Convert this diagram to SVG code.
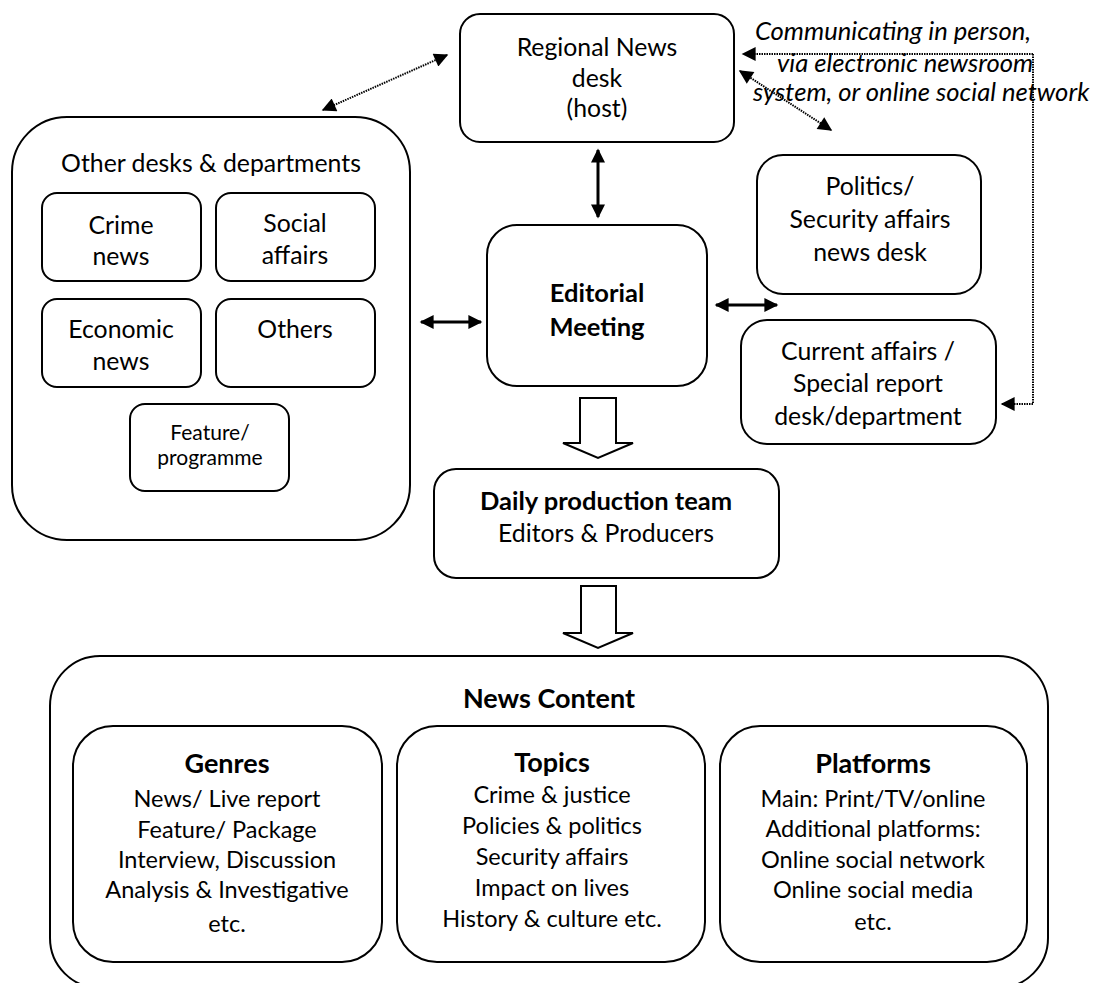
<svg xmlns="http://www.w3.org/2000/svg" width="1109" height="983" viewBox="0 0 1109 983">
  <defs>
    <style>
      .box { fill: #fff; stroke: #000; stroke-width: 2; }
      .t { font-family: Lato, "Liberation Sans", sans-serif; font-size: 24.8px; fill: #000; text-anchor: middle; }
      .b { font-weight: bold; font-size: 25.5px; }
      .h { font-size: 27px; font-weight: bold; }
      .s { font-size: 21px; }
      .l { font-size: 23.5px; }
      .it { font-style: italic; text-anchor: start; font-size: 25.6px; }
      .solid { stroke: #000; stroke-width: 3; fill: none; }
      .dot { stroke: #000; stroke-width: 2; fill: none; stroke-dasharray: 1.5 1; }
      .hollow { fill: #fff; stroke: #000; stroke-width: 2; stroke-linejoin: miter; }
    </style>
    <marker id="head" viewBox="0 0 10 10" refX="9" refY="5" markerWidth="16" markerHeight="14" markerUnits="userSpaceOnUse" orient="auto-start-reverse">
      <path d="M0,0 L10,5 L0,10 z" fill="#000"/>
    </marker>
  </defs>

  <!-- Regional News desk -->
  <g id="regional-desk">
    <rect class="box" x="460" y="14" width="274" height="128" rx="20"/>
    <text class="t" x="597" y="56">Regional News</text>
    <text class="t" x="597" y="87">desk</text>
    <text class="t" x="597" y="117">(host)</text>
  </g>

  <!-- Other desks & departments -->
  <g id="other-desks">
    <rect class="box" x="12" y="117" width="398" height="423" rx="55"/>
    <text class="t" x="211" y="172">Other desks &amp; departments</text>
  </g>
  <g id="crime-news">
    <rect class="box" x="42" y="193" width="159" height="88" rx="15"/>
    <text class="t" x="121" y="234">Crime</text>
    <text class="t" x="121" y="265">news</text>
  </g>
  <g id="social-affairs">
    <rect class="box" x="216" y="193" width="159" height="88" rx="15"/>
    <text class="t" x="295" y="232">Social</text>
    <text class="t" x="295" y="264">affairs</text>
  </g>
  <g id="economic-news">
    <rect class="box" x="42" y="299" width="159" height="88" rx="15"/>
    <text class="t" x="121" y="338">Economic</text>
    <text class="t" x="121" y="370">news</text>
  </g>
  <g id="others">
    <rect class="box" x="216" y="299" width="159" height="88" rx="15"/>
    <text class="t" x="295" y="338">Others</text>
  </g>
  <g id="feature-programme">
    <rect class="box" x="130" y="404" width="159" height="87" rx="15"/>
    <text class="t s" x="210" y="440">Feature/</text>
    <text class="t s" x="210" y="465">programme</text>
  </g>

  <!-- Editorial Meeting -->
  <g id="editorial-meeting">
    <rect class="box" x="487" y="225" width="220" height="161" rx="30"/>
    <text class="t b" x="597" y="302">Editorial</text>
    <text class="t b" x="597" y="336">Meeting</text>
  </g>

  <!-- Politics / Security affairs -->
  <g id="politics-desk">
    <rect class="box" x="757" y="155" width="224" height="139" rx="26"/>
    <text class="t" x="870" y="195">Politics/</text>
    <text class="t" x="870" y="228">Security affairs</text>
    <text class="t" x="870" y="261">news desk</text>
  </g>

  <!-- Current affairs / Special report -->
  <g id="current-affairs">
    <rect class="box" x="741" y="320" width="255" height="124" rx="26"/>
    <text class="t" x="868" y="360">Current affairs /</text>
    <text class="t" x="868" y="392">Special report</text>
    <text class="t" x="868" y="425">desk/department</text>
  </g>

  <!-- Daily production team -->
  <g id="daily-production">
    <rect class="box" x="434" y="469" width="345" height="109" rx="22"/>
    <text class="t b" x="606" y="510">Daily production team</text>
    <text class="t" x="606" y="542">Editors &amp; Producers</text>
  </g>

  <!-- News Content -->
  <g id="news-content">
    <rect class="box" x="50" y="656" width="998" height="332" rx="50"/>
    <text class="t h" x="549" y="708">News Content</text>
  </g>
  <g id="genres">
    <rect class="box" x="73" y="726" width="309" height="236" rx="40"/>
    <text class="t h" x="227" y="773">Genres</text>
    <text class="t l" x="227" y="807">News/ Live report</text>
    <text class="t l" x="227" y="838">Feature/ Package</text>
    <text class="t l" x="227" y="868">Interview, Discussion</text>
    <text class="t l" x="227" y="898">Analysis &amp; Investigative</text>
    <text class="t l" x="227" y="932">etc.</text>
  </g>
  <g id="topics">
    <rect class="box" x="397" y="726" width="308" height="236" rx="40"/>
    <text class="t h" x="552" y="772">Topics</text>
    <text class="t l" x="552" y="803">Crime &amp; justice</text>
    <text class="t l" x="552" y="834">Policies &amp; politics</text>
    <text class="t l" x="552" y="865">Security affairs</text>
    <text class="t l" x="552" y="896">Impact on lives</text>
    <text class="t l" x="552" y="927">History &amp; culture etc.</text>
  </g>
  <g id="platforms">
    <rect class="box" x="720" y="726" width="307" height="236" rx="40"/>
    <text class="t h" x="873" y="773">Platforms</text>
    <text class="t l" x="873" y="807">Main: Print/TV/online</text>
    <text class="t l" x="873" y="837">Additional platforms:</text>
    <text class="t l" x="873" y="868">Online social network</text>
    <text class="t l" x="873" y="898">Online social media</text>
    <text class="t l" x="873" y="930">etc.</text>
  </g>

  <!-- Communication note -->
  <g id="note">
    <text class="t it" x="755" y="40">Communicating in person,</text>
    <text class="t it" x="777" y="72">via electronic newsroom</text>
    <text class="t it" x="753" y="101">system, or online social network</text>
  </g>

  <!-- Connectors -->
  <g id="connectors">
    <line class="solid" x1="598" y1="150" x2="598" y2="217" marker-start="url(#head)" marker-end="url(#head)"/>
    <line class="solid" x1="421" y1="322" x2="481" y2="322" marker-start="url(#head)" marker-end="url(#head)"/>
    <line class="solid" x1="716" y1="305" x2="777" y2="305" marker-start="url(#head)" marker-end="url(#head)"/>
    <line class="dot" x1="447" y1="55" x2="323" y2="110" marker-start="url(#head)" marker-end="url(#head)"/>
    <line class="dot" x1="740" y1="71" x2="831" y2="130" marker-start="url(#head)" marker-end="url(#head)"/>
    <polyline class="dot" points="1033,54 1033,404 1002,404" marker-end="url(#head)"/>
    <line class="dot" x1="1033" y1="54" x2="743" y2="54" marker-end="url(#head)"/>
    <polygon class="hollow" points="580,398 616,398 616,443 633,443 598,458 563,443 580,443"/>
    <polygon class="hollow" points="581,586 616,586 616,633 633,633 598,648 563,633 581,633"/>
  </g>
</svg>
